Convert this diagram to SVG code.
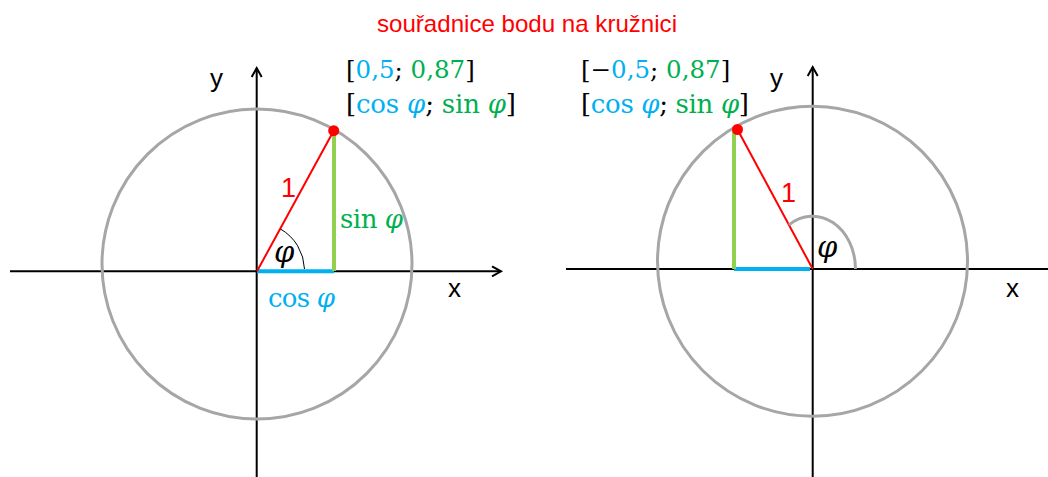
<svg xmlns="http://www.w3.org/2000/svg" width="1048" height="477" viewBox="0 0 1048 477">
  <style>
    .axis { stroke: #000; stroke-width: 2; fill: none; }
    .circ { stroke: #A6A6A6; stroke-width: 3; fill: none; }
    .radius { stroke: #FF0000; stroke-width: 2; fill: none; }
    .sinl { stroke: #92D050; stroke-width: 4; fill: none; }
    .cosl { stroke: #00B0F0; stroke-width: 4; fill: none; }
    .sans { font-family: "Liberation Sans", Arial, sans-serif; }
    .math { font-family: "DejaVu Serif", "Liberation Serif", serif; font-size: 26px; }
    .coord { font-size: 24.5px; }
    .phi { font-style: italic; }
    .blue { fill: #00B0F0; }
    .green { fill: #00B050; }
    .black { fill: #000; }
    .red { fill: #FF0000; }
  </style>
  <defs>
    <marker id="arrow" markerUnits="userSpaceOnUse" markerWidth="16" markerHeight="16" refX="0" refY="0" viewBox="-12 -8 16 16" orient="auto" overflow="visible">
      <path d="M -9 -5 L 0 0 L -9 5" stroke="#000" stroke-width="2" fill="none"/>
    </marker>
  </defs>

  <g id="title">
    <text class="sans red" x="377" y="32" font-size="24" textLength="300" lengthAdjust="spacingAndGlyphs">souřadnice bodu na kružnici</text>
  </g>

  <g id="connectors">
    <line id="left-x-axis" class="axis" x1="10" y1="271.3" x2="501" y2="271.3" marker-end="url(#arrow)"/>
    <line id="left-y-axis" class="axis" x1="256.7" y1="477" x2="256.7" y2="68" marker-end="url(#arrow)"/>
    <line id="right-x-axis" class="axis" x1="566" y1="269" x2="1048" y2="269"/>
    <line id="right-y-axis" class="axis" x1="812.7" y1="477" x2="812.7" y2="67" marker-end="url(#arrow)"/>
  </g>

  <g id="left-diagram">
    <circle id="left-circle" class="circ" cx="257" cy="264" r="155"/>
    <line class="cosl" x1="257" y1="271.3" x2="334" y2="271.3"/>
    <line class="sinl" x1="334" y1="132" x2="334" y2="271"/>
    <line class="radius" x1="257" y1="271.3" x2="333.7" y2="130.7"/>
    <path d="M 304.5 269 A 48 48 0 0 0 280.5 229" stroke="#000" stroke-width="1" fill="none"/>
    <circle cx="333.7" cy="130.7" r="5.5" fill="#FF0000"/>
    <text class="sans red" x="281" y="197" font-size="27">1</text>
    <text class="math phi black" x="274" y="262" style="font-size:29px">φ</text>
    <text class="math green" x="340" y="228" textLength="63">sin <tspan class="phi">φ</tspan></text>
    <text class="math blue" x="268" y="307" textLength="67">cos <tspan class="phi">φ</tspan></text>
    <text class="sans black" x="448" y="297" font-size="26">x</text>
    <text class="sans black" x="210" y="87" font-size="26">y</text>
    <text class="math coord" x="346" y="78"><tspan class="black">[</tspan><tspan class="blue">0,5</tspan><tspan class="black">; </tspan><tspan class="green">0,87</tspan><tspan class="black">]</tspan></text>
    <text class="math" x="346" y="113" textLength="170"><tspan class="black">[</tspan><tspan class="blue">cos </tspan><tspan class="blue phi">φ</tspan><tspan class="black">; </tspan><tspan class="green">sin </tspan><tspan class="green phi">φ</tspan><tspan class="black">]</tspan></text>
  </g>

  <g id="right-diagram">
    <circle id="right-circle" class="circ" cx="812.5" cy="261.2" r="155"/>
    <line class="cosl" x1="734" y1="269" x2="810" y2="269"/>
    <line class="sinl" x1="734" y1="131" x2="734" y2="269"/>
    <line class="radius" x1="737.5" y1="129.5" x2="812.7" y2="269"/>
    <path d="M 855.5 269 A 43 53 0 0 0 789 224.8" stroke="#A6A6A6" stroke-width="3" fill="none"/>
    <circle cx="737.5" cy="129.5" r="5.5" fill="#FF0000"/>
    <text class="sans red" x="781" y="202" font-size="27">1</text>
    <text class="math phi black" x="817" y="257" style="font-size:29px">φ</text>
    <text class="sans black" x="1006" y="297" font-size="26">x</text>
    <text class="sans black" x="770" y="87" font-size="26">y</text>
    <text class="math coord" x="581" y="78"><tspan class="black">[−</tspan><tspan class="blue">0,5</tspan><tspan class="black">; </tspan><tspan class="green">0,87</tspan><tspan class="black">]</tspan></text>
    <text class="math" x="581" y="113" textLength="168"><tspan class="black">[</tspan><tspan class="blue">cos </tspan><tspan class="blue phi">φ</tspan><tspan class="black">; </tspan><tspan class="green">sin </tspan><tspan class="green phi">φ</tspan><tspan class="black">]</tspan></text>
  </g>
</svg>
